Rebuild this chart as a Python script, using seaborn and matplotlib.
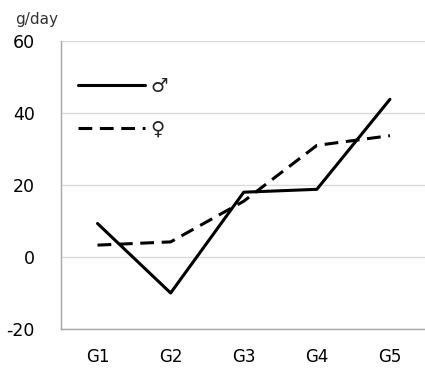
import pandas as pd
import seaborn as sns
import matplotlib.pyplot as plt
from matplotlib.ticker import FixedLocator

groups = ['G1', 'G2', 'G3', 'G4', 'G5']
male = [9.3, -10.0, 18.0, 18.8, 43.8]
female = [3.3, 4.2, 15.5, 31.0, 33.7]
sexes = ['♂', '♀']

df = pd.DataFrame({
    'group': groups * 2,
    'gain': male + female,
    'sex': [sexes[0]] * len(groups) + [sexes[1]] * len(groups),
})

sns.set_style('white')
plt.rcParams['font.family'] = ['DejaVu Sans']
plt.rcParams['axes.unicode_minus'] = False

fig = plt.figure(figsize=(4.25, 3.71), dpi=100)
ax = fig.add_axes([0.1435, 0.1132, 0.86, 0.7763])

sns.lineplot(data=df, x='group', y='gain', style='sex', style_order=sexes,
             dashes={'♂': '', '♀': (4.5, 2.5)}, color='black', linewidth=2.2,
             sort=False, ax=ax)

ax.set_xlim(-0.5, 4.5)
ax.set_ylim(-20, 60)
ax.set_yticks([-20, 0, 20, 40, 60])
ax.yaxis.grid(True, color='#d9d9d9', linewidth=1)
ax.set_axisbelow(True)

for side in ['top', 'right']:
    ax.spines[side].set_visible(False)
for side in ['left', 'bottom']:
    ax.spines[side].set_color('#a6a6a6')
    ax.spines[side].set_linewidth(1)

ax.tick_params(axis='x', which='major', length=0, pad=14, labelsize=12,
               labelcolor='black')
ax.xaxis.set_minor_locator(FixedLocator([0.5, 1.5, 2.5, 3.5, 4.5]))
ax.tick_params(axis='x', which='minor', length=6, color='#a6a6a6', direction='out')
ax.tick_params(axis='y', length=6, color='#a6a6a6', labelsize=12.5, pad=13,
               labelcolor='black')

ax.set_xlabel('')
ax.set_ylabel('')
fig.text(0.035, 0.935, 'g/day', fontsize=11, color='#333333')

ax.legend(loc='upper left', bbox_to_anchor=(0.0, 0.935), frameon=False,
          handlelength=3.4, labelspacing=1.2, fontsize=14, handletextpad=0.3)

fig.savefig('out.png', dpi=100)
